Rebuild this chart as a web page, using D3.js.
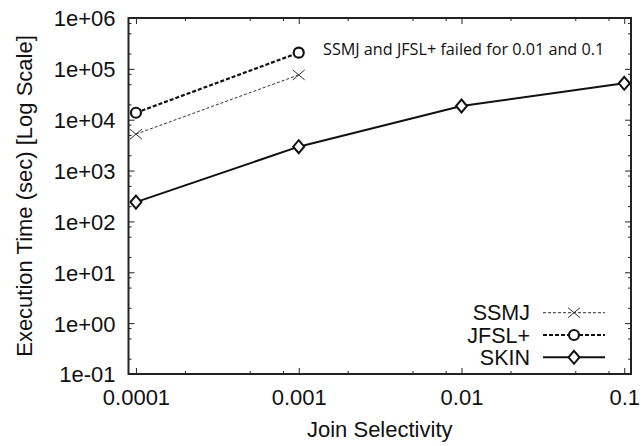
<!doctype html>
<html lang="en">
<head>
  <meta charset="utf-8">
  <title>Join Selectivity vs Execution Time</title>
  <script src="https://cdnjs.cloudflare.com/ajax/libs/d3/7.8.5/d3.min.js"></script>
  <style>
    body { margin: 0; background: #fff; }
    svg { display: block; font-family: "Liberation Sans", Arial, sans-serif; }
    .tick line { stroke: #222; stroke-width: 1; }
    .tick text { font-size: 22px; fill: #111; }
  </style>
</head>
<body>
<div id="chart"></div>

<script>
// values
var selectivity = [0.0001, 0.001, 0.01, 0.1];
var ssmjTime = [5200, 76000];          // failed for 0.01 and 0.1
var jfslTime = [13700, 208000];        // failed for 0.01 and 0.1
var skinTime = [240, 2950, 18600, 52000];

var seriesNames = ["SSMJ", "JFSL+", "SKIN"];
var xMajor = [0.0001, 0.001, 0.01, 0.1];
var yMajor = [1e-1, 1e0, 1e1, 1e2, 1e3, 1e4, 1e5, 1e6];
var xLabels = ["0.0001", "0.001", "0.01", "0.1"];
var yLabels = ["1e-01", "1e+00", "1e+01", "1e+02", "1e+03", "1e+04", "1e+05", "1e+06"];
var note = "SSMJ and JFSL+ failed for 0.01 and 0.1";

var W = 644, H = 446;
var mLeft = 128.5, mRight = 631, mTop = 18, mBottom = 374;

var svg = d3.select("#chart").append("svg")
    .attr("width", W)
    .attr("height", H);

var x = d3.scaleLog().domain([0.00009, 0.11]).range([mLeft, mRight]);
var y = d3.scaleLog().domain([0.1, 1e6]).range([mBottom, mTop]);

// minor ticks at 2,5,8 per decade (as in the original)
var xMinor = [], yMinor = [];
xMajor.forEach(function(d) { [2, 5, 8].forEach(function(m) { if (d * m < 0.11) xMinor.push(d * m); }); });
yMajor.forEach(function(d) { [2, 5, 8].forEach(function(m) { if (d * m < 1e6) yMinor.push(d * m); }); });

function fmtX(d) { return xLabels[xMajor.indexOf(d)]; }
function fmtY(d) {
  var i = yMajor.findIndex(function(v){ return Math.abs(Math.log10(v) - Math.log10(d)) < 1e-6; });
  return yLabels[i];
}

// bottom axis
svg.append("g").attr("transform", "translate(0," + mBottom + ")")
  .call(d3.axisBottom(x).tickValues(xMajor).tickFormat(fmtX).tickSizeInner(-6).tickSizeOuter(0).tickPadding(0))
  .call(function(g) {
    g.select(".domain").remove();
    g.selectAll("text").attr("y", 31).attr("dy", null);
  });
svg.append("g").attr("transform", "translate(0," + mBottom + ")")
  .call(d3.axisBottom(x).tickValues(xMinor).tickFormat("").tickSizeInner(-3).tickSizeOuter(0))
  .call(function(g) { g.select(".domain").remove(); });

// top axis (mirror)
svg.append("g").attr("transform", "translate(0," + mTop + ")")
  .call(d3.axisTop(x).tickValues(xMajor).tickFormat("").tickSizeInner(-6).tickSizeOuter(0))
  .call(function(g) { g.select(".domain").remove(); });
svg.append("g").attr("transform", "translate(0," + mTop + ")")
  .call(d3.axisTop(x).tickValues(xMinor).tickFormat("").tickSizeInner(-3).tickSizeOuter(0))
  .call(function(g) { g.select(".domain").remove(); });

// left axis
svg.append("g").attr("transform", "translate(" + mLeft + ",0)")
  .call(d3.axisLeft(y).tickValues(yMajor).tickFormat(fmtY).tickSizeInner(-6).tickSizeOuter(0).tickPadding(0))
  .call(function(g) {
    g.select(".domain").remove();
    g.selectAll("text").attr("x", -13).attr("dy", "0.36em");
  });
svg.append("g").attr("transform", "translate(" + mLeft + ",0)")
  .call(d3.axisLeft(y).tickValues(yMinor).tickFormat("").tickSizeInner(-3).tickSizeOuter(0))
  .call(function(g) { g.select(".domain").remove(); });

// right axis (mirror)
svg.append("g").attr("transform", "translate(" + mRight + ",0)")
  .call(d3.axisRight(y).tickValues(yMajor).tickFormat("").tickSizeInner(-6).tickSizeOuter(0))
  .call(function(g) { g.select(".domain").remove(); });
svg.append("g").attr("transform", "translate(" + mRight + ",0)")
  .call(d3.axisRight(y).tickValues(yMinor).tickFormat("").tickSizeInner(-3).tickSizeOuter(0))
  .call(function(g) { g.select(".domain").remove(); });

// frame
svg.append("rect")
  .attr("x", mLeft).attr("y", mTop)
  .attr("width", mRight - mLeft).attr("height", mBottom - mTop)
  .attr("fill", "none").attr("stroke", "#222").attr("stroke-width", 2);

// axis titles
svg.append("text")
  .attr("x", (mLeft + mRight) / 2).attr("y", 437)
  .attr("text-anchor", "middle")
  .attr("font-size", 22).attr("fill", "#111")
  .text("Join Selectivity");

svg.append("text")
  .attr("transform", "translate(32,196) rotate(-90)")
  .attr("text-anchor", "middle")
  .attr("font-size", 22).attr("fill", "#111")
  .text("Execution Time (sec) [Log Scale]");

// annotation
svg.append("text")
  .attr("x", 323).attr("y", 55)
  .attr("font-family", "'Open Sans', sans-serif")
  .attr("font-size", 16.2).attr("fill", "#111")
  .text(note);

// marker shapes
var timesSym = { draw: function(ctx, s) { ctx.moveTo(-6, -5); ctx.lineTo(6, 5); ctx.moveTo(-6, 5); ctx.lineTo(6, -5); } };
var circleSym = { draw: function(ctx, s) { ctx.moveTo(5, 0); ctx.arc(0, 0, 5, 0, 2 * Math.PI); } };
var diamondSym = { draw: function(ctx, s) { ctx.moveTo(0, -6.5); ctx.lineTo(5.5, 0); ctx.lineTo(0, 6.5); ctx.lineTo(-5.5, 0); ctx.closePath(); } };

var series = [
  { name: seriesNames[0], values: ssmjTime, width: 1, dash: "3,2", color: "#333", sym: timesSym, mw: 1, fill: "none" },
  { name: seriesNames[1], values: jfslTime, width: 2.2, dash: "4,2", color: "#111", sym: circleSym, mw: 2.2, fill: "#fff" },
  { name: seriesNames[2], values: skinTime, width: 2, dash: null, color: "#111", sym: diamondSym, mw: 2, fill: "#fff" }
];

var line = d3.line()
  .x(function(d) { return x(d[0]); })
  .y(function(d) { return y(d[1]); });

series.forEach(function(s) {
  var pts = s.values.map(function(v, i) { return [selectivity[i], v]; });
  svg.append("path")
    .datum(pts)
    .attr("d", line)
    .attr("fill", "none")
    .attr("stroke", s.color)
    .attr("stroke-width", s.width)
    .attr("stroke-dasharray", s.dash);
  svg.selectAll(null).data(pts).enter().append("path")
    .attr("transform", function(d) { return "translate(" + x(d[0]) + "," + y(d[1]) + ")"; })
    .attr("d", d3.symbol().type(s.sym))
    .attr("fill", s.fill)
    .attr("stroke", s.color)
    .attr("stroke-width", s.mw);
});

// legend
var leg = svg.append("g");
series.forEach(function(s, i) {
  var cy = 312.7 + i * 22.3;
  leg.append("text")
    .attr("x", 530).attr("y", cy + 7.5)
    .attr("text-anchor", "end")
    .attr("font-size", 21.5).attr("fill", "#111")
    .text(s.name);
  leg.append("line")
    .attr("x1", 543).attr("x2", 605)
    .attr("y1", cy).attr("y2", cy)
    .attr("stroke", s.color)
    .attr("stroke-width", s.width)
    .attr("stroke-dasharray", s.dash);
  leg.append("path")
    .attr("transform", "translate(574," + cy + ")")
    .attr("d", d3.symbol().type(s.sym))
    .attr("fill", s.fill)
    .attr("stroke", s.color)
    .attr("stroke-width", s.mw);
});
</script>
</body>
</html>
